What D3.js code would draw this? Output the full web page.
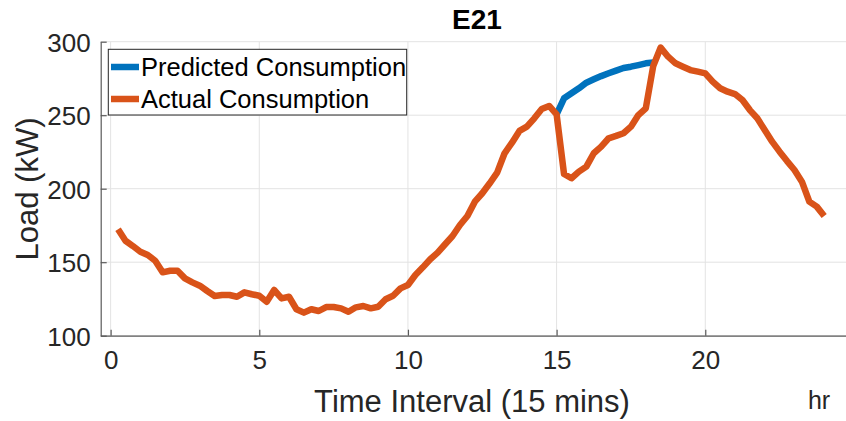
<!DOCTYPE html>
<html>
<head>
<meta charset="utf-8">
<script src="https://cdn.jsdelivr.net/npm/d3@7"></script>
<style>
  html, body { margin: 0; padding: 0; background: #fff; }
  svg { display: block; font-family: "Liberation Sans", Arial, Helvetica, sans-serif; }
</style>
</head>
<body>
<svg id="chart" width="846" height="421"></svg>
<script>
// 15-minute intervals across the day, expressed in hours
const intervalCount = 96;
const hours = d3.range(1, intervalCount + 1).map(i => i / 4);

// Measured load (kW) for each interval
const actualLoad = [
  172.4, 164.6, 161.0, 157.1, 154.9, 151.0, 143.1, 144.2, 144.2, 139.0,
  136.3, 134.0, 130.4, 127.0, 127.7, 127.7, 126.5, 129.5, 128.2, 127.2,
  123.1, 131.1, 125.4, 126.5, 118.0, 115.7, 118.0, 116.8, 119.5, 119.5,
  118.6, 116.3, 119.3, 120.2, 118.6, 119.7, 124.8, 127.2, 132.2, 134.5,
  141.3, 146.5, 152.0, 156.5, 162.2, 167.8, 175.3, 181.4, 191.2, 196.9,
  203.7, 210.9, 224.1, 231.3, 239.3, 242.2, 247.9, 254.2, 256.3, 250.5,
  210.0, 207.1, 211.6, 215.0, 224.1, 228.6, 234.3, 235.9, 237.7, 242.2,
  250.1, 254.7, 283.5, 296.0, 289.8, 285.3, 283.0, 280.7, 279.6, 278.5,
  272.8, 268.3, 266.0, 264.4, 260.3, 253.5, 247.9, 239.9, 232.0, 225.2,
  218.8, 212.7, 204.8, 191.2, 187.8, 181.4
];

// Forecast issued at 15:00, covering intervals 60..73
const predictedStart = 60;
const predictedLoad = [
  250.5, 261.5, 264.9, 268.3, 272.1, 274.4, 276.6, 278.5, 280.3, 282.1,
  283.0, 284.1, 285.3, 285.8
];

const xTicks = [0, 5, 10, 15, 20];
const yTicks = [100, 150, 200, 250, 300];

const seriesNames = ["Predicted Consumption", "Actual Consumption"];
const colors = { predicted: "#0072BD", actual: "#D95319" };

const svg = d3.select("#chart");

const plot = { left: 100.7, right: 846.5, top: 41.7, bottom: 335.7 };

const x = d3.scaleLinear().domain([-1 / 3, 24.75]).range([plot.left, plot.right]);
const y = d3.scaleLinear().domain([100, 300]).range([plot.bottom, plot.top]);

// Grid
const grid = svg.append("g").attr("stroke", "#e3e3e3").attr("stroke-width", 1);
grid.selectAll(".gx").data(xTicks).join("line")
  .attr("x1", d => x(d)).attr("x2", d => x(d))
  .attr("y1", plot.top).attr("y2", plot.bottom);
grid.selectAll(".gy").data(yTicks).join("line")
  .attr("x1", plot.left).attr("x2", plot.right)
  .attr("y1", d => y(d)).attr("y2", d => y(d));

// Axes (ticks point inward)
const axisColor = "#5a5a5a";
const xAxis = svg.append("g")
  .attr("transform", `translate(0,${plot.bottom})`)
  .call(d3.axisBottom(x).tickValues(xTicks).tickSize(-6).tickPadding(15).tickSizeOuter(0));
const yAxis = svg.append("g")
  .attr("transform", `translate(${plot.left},0)`)
  .call(d3.axisLeft(y).tickValues(yTicks).tickSize(-6).tickPadding(10).tickSizeOuter(0));

[xAxis, yAxis].forEach(a => {
  a.select(".domain").attr("stroke", axisColor).attr("stroke-width", 1.2);
  a.selectAll(".tick line").attr("stroke", axisColor).attr("stroke-width", 1.2);
  a.selectAll(".tick text")
    .attr("fill", "#262626")
    .style("font-size", "26px")
    .style("font-family", "'Liberation Sans', Arial, sans-serif");
});
yAxis.selectAll(".tick text").attr("dy", "0.36em");

// Series
const line = d3.line().x(d => x(d[0])).y(d => y(d[1]));

const predictedPts = predictedLoad.map((v, k) => [hours[predictedStart - 1 + k], v]);
const actualPts = actualLoad.map((v, k) => [hours[k], v]);

svg.append("path")
  .datum(predictedPts)
  .attr("d", line)
  .attr("fill", "none")
  .attr("stroke", colors.predicted)
  .attr("stroke-width", 6.5)
  .attr("stroke-linejoin", "round");

svg.append("path")
  .datum(actualPts)
  .attr("d", line)
  .attr("fill", "none")
  .attr("stroke", colors.actual)
  .attr("stroke-width", 6.5)
  .attr("stroke-linejoin", "round");

// Title
svg.append("text")
  .attr("x", 477).attr("y", 29)
  .attr("text-anchor", "middle")
  .attr("fill", "#000")
  .style("font-size", "28px")
  .style("font-weight", "bold")
  .text("E21");

// Axis labels
svg.append("text")
  .attr("x", 472).attr("y", 412)
  .attr("text-anchor", "middle")
  .attr("fill", "#262626")
  .style("font-size", "31px")
  .text("Time Interval (15 mins)");

svg.append("text")
  .attr("x", 819).attr("y", 409)
  .attr("text-anchor", "middle")
  .attr("fill", "#262626")
  .style("font-size", "25px")
  .text("hr");

svg.append("text")
  .attr("transform", "translate(38,189) rotate(-90)")
  .attr("text-anchor", "middle")
  .attr("fill", "#262626")
  .style("font-size", "31px")
  .text("Load (kW)");

// Legend
const legend = svg.append("g");
legend.append("rect")
  .attr("x", 108.3).attr("y", 49.3)
  .attr("width", 298.4).attr("height", 65.7)
  .attr("fill", "#fff")
  .attr("stroke", "#262626")
  .attr("stroke-width", 1);

const legendRows = [
  { name: seriesNames[0], color: colors.predicted, cy: 67 },
  { name: seriesNames[1], color: colors.actual, cy: 99 }
];
legendRows.forEach(r => {
  legend.append("line")
    .attr("x1", 111).attr("x2", 139)
    .attr("y1", r.cy).attr("y2", r.cy)
    .attr("stroke", r.color).attr("stroke-width", 6.5);
  legend.append("text")
    .attr("x", 141).attr("y", r.cy)
    .attr("dy", "0.36em")
    .attr("fill", "#000")
    .style("font-size", "25.5px")
    .text(r.name);
});
</script>
</body>
</html>
